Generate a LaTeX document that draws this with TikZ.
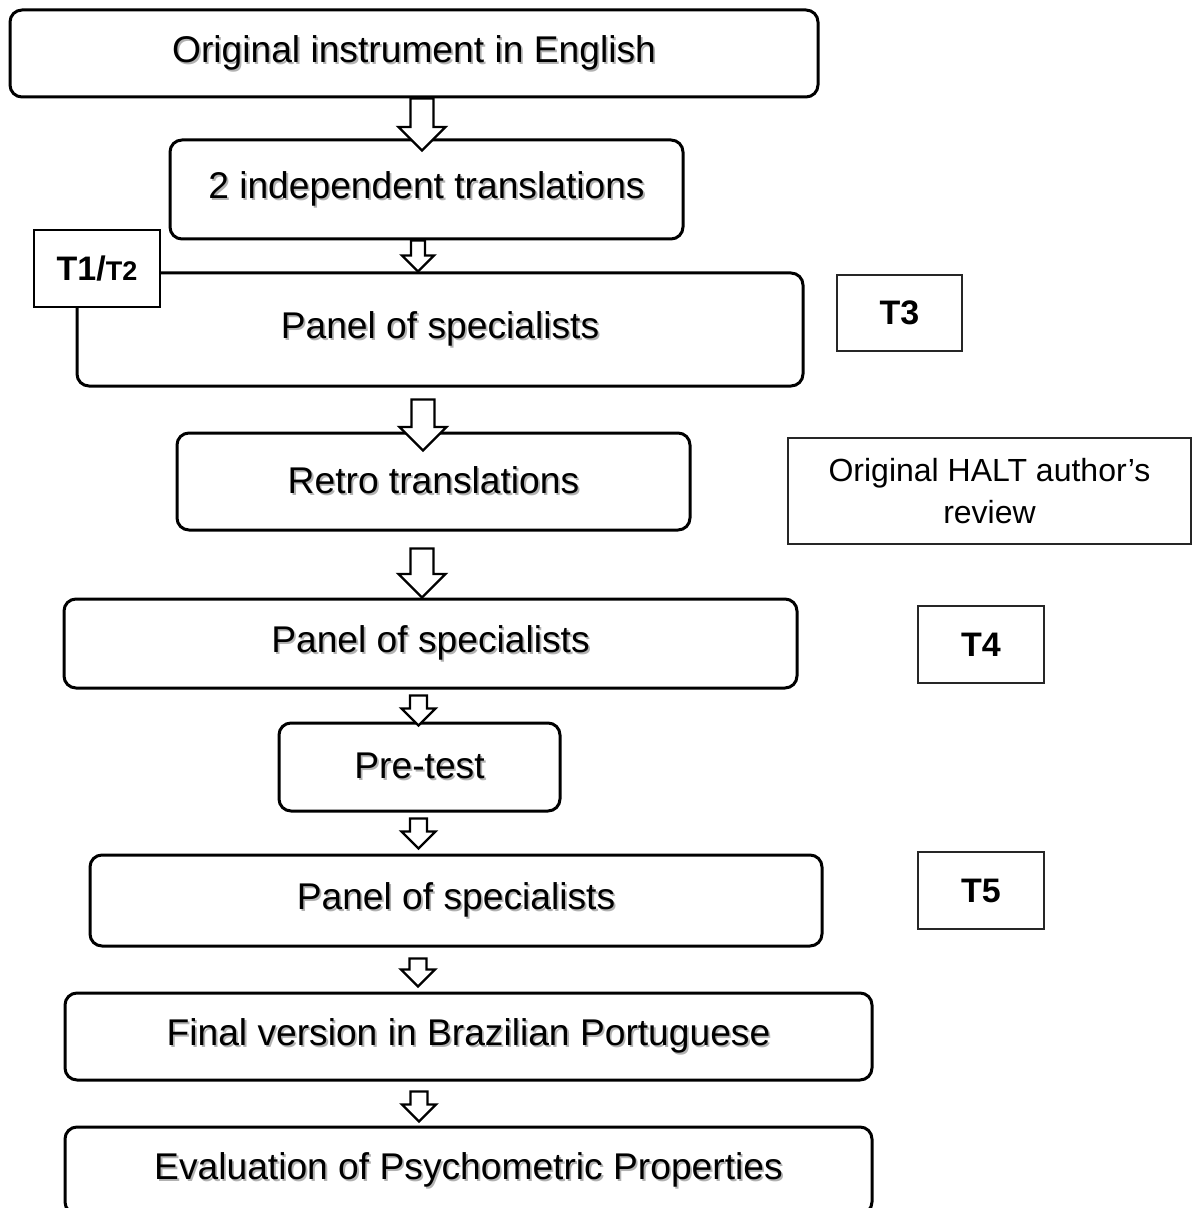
\documentclass[tikz,border=0pt]{standalone}
\usepackage{fontspec}
\setmainfont{Liberation Sans}
\usepackage{tikz}
\usetikzlibrary{calc}
\tikzset{stage/.style={draw, line width=1.5pt, rounded corners=6pt, fill=white,
		inner sep=0pt, font=\fontsize{18.6}{22}\selectfont},
	tag/.style={draw, line width=1pt, fill=white, inner sep=0pt,
		font=\bfseries\fontsize{17}{20}\selectfont},
	thintag/.style={tag, draw=black!85, line width=0.7pt},
	blockarrow/.style={draw, line width=1.2pt, fill=white, line join=miter}}
\newcommand{\shadowed}[1]{\makebox[0pt][l]{\hspace{0.9pt}\raisebox{-0.9pt}{\color{black!30}#1}}#1}
\newcommand{\hollowarrow}[4]{%
	\draw[blockarrow] let \p1=#1, \p2=#2 in
		(\x2-#3,\y1) -- (\x2-#3,\y2+#4) -- (\x2-#4,\y2+#4) -- (\x2,\y2)
		-- (\x2+#4,\y2+#4) -- (\x2+#3,\y2+#4) -- (\x2+#3,\y1) -- cycle;}

\begin{document}
\begin{tikzpicture}[x=0.5pt, y=-0.5pt]
	\useasboundingbox (0,0) rectangle (1195,1208);
	\clip (0,0) rectangle (1195,1208);
	\node[stage, minimum width=404pt, minimum height=43.5pt] (box1) at (414,53.5)
		{\shadowed{Original instrument in English}};
	\node[stage, minimum width=256.5pt, minimum height=49.5pt] (box2) at (426.5,189.5)
		{\shadowed{2 independent translations}};
	\node[stage, minimum width=363pt, minimum height=56.5pt] (box3) at (440,329.5)
		{\shadowed{Panel of specialists}};
	\node[tag, minimum width=63pt, minimum height=38.5pt] (t12) at (97,268.5)
		{\raisebox{-1pt}{T1/{\fontsize{13.5}{15}\selectfont T2}}};
	\node[thintag, minimum width=62.5pt, minimum height=38pt] (t3) at (899.5,313)
		{\raisebox{-1.5pt}{T3}};
	\node[stage, minimum width=256.5pt, minimum height=48.5pt] (box4) at (433.5,481.5)
		{\shadowed{Retro translations}};
	\node[thintag, align=center, font=\fontsize{16}{21}\selectfont,
		minimum width=201.5pt, minimum height=53pt] (halt) at (989.5,491)
		{Original HALT author’s\\review};
	\node[stage, minimum width=366.5pt, minimum height=44.5pt] (box5) at (430.5,643.5)
		{\shadowed{Panel of specialists}};
	\node[thintag, minimum width=63pt, minimum height=38.5pt] (t4) at (981,644.5)
		{\raisebox{-1.5pt}{T4}};
	\node[stage, minimum width=140.5pt, minimum height=44pt] (box6) at (419.5,767)
		{\shadowed{Pre-test}};
	\node[stage, minimum width=366pt, minimum height=45.5pt] (box7) at (456,900.5)
		{\shadowed{Panel of specialists}};
	\node[thintag, minimum width=63pt, minimum height=38.5pt] (t5) at (981,890.5)
		{\raisebox{-1.5pt}{T5}};
	\node[stage, minimum width=403.5pt, minimum height=43.5pt] (box8) at (468.5,1036.5)
		{\shadowed{Final version in Brazilian Portuguese}};
	\node[stage, minimum width=403.5pt, minimum height=43.5pt] (box9) at (468.5,1170.5)
		{\shadowed{Evaluation of Psychometric Properties}};
	\hollowarrow{(box1.south)}{($(box2.north)+(-4.5,12)$)}{5.75pt}{11.75pt}
	\hollowarrow{(box2.south)}{($(box3.north)+(-22,0)$)}{3.5pt}{8pt}
	\hollowarrow{($(box3.south)+(0,12)$)}{($(box4.north)+(-10.5,19)$)}{5.75pt}{11.75pt}
	\hollowarrow{($(box4.south)+(0,17)$)}{($(box5.north)+(-8.5,0)$)}{5.75pt}{11.75pt}
	\hollowarrow{($(box5.south)+(0,6)$)}{($(box6.north)+(-1,4)$)}{4.25pt}{8.5pt}
	\hollowarrow{($(box6.south)+(0,6)$)}{($(box7.north)+(-37.5,-5)$)}{4.25pt}{8.5pt}
	\hollowarrow{($(box7.south)+(0,11)$)}{($(box8.north)+(-50.5,-5)$)}{4.25pt}{8.5pt}
	\hollowarrow{($(box8.south)+(0,10)$)}{($(box9.north)+(-49.5,-4)$)}{4.25pt}{8.5pt}
\end{tikzpicture}
\end{document}
